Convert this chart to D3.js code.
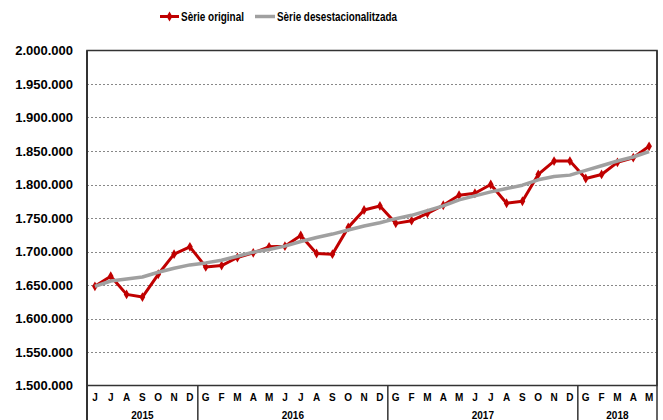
<!DOCTYPE html>
<html><head><meta charset="utf-8">
<script src="https://cdn.jsdelivr.net/npm/d3@7"></script>
<style>body{margin:0;background:#fff;}svg{display:block;font-family:"Liberation Sans",Arial,sans-serif;}</style>
</head><body>
<script>
const months = ["J","J","A","S","O","N","D",
  "G","F","M","A","M","J","J","A","S","O","N","D",
  "G","F","M","A","M","J","J","A","S","O","N","D",
  "G","F","M","A","M"];
const years = [{label:"2015",n:7},{label:"2016",n:12},{label:"2017",n:12},{label:"2018",n:5}];
const original = [1648000,1663000,1636000,1632000,1666000,1696000,1707000,
  1677000,1679000,1691000,1698000,1707000,1708000,1724000,1697000,1696000,1736000,1762000,1768000,
  1742000,1746000,1757000,1769000,1784000,1787000,1800000,1772000,1775000,1815000,1835000,1835000,
  1809000,1815000,1833000,1840000,1857000];
const desest = [1648000,1656000,1659000,1662000,1669000,1675000,1680000,
  1683000,1687000,1693000,1699000,1703000,1708000,1715000,1721000,1726000,1732000,1738000,1743000,
  1749000,1754000,1761000,1768000,1777000,1783000,1789000,1794000,1799000,1807000,1812000,1814000,
  1821000,1828000,1835000,1841000,1849000];
const yTicks = [1500000,1550000,1600000,1650000,1700000,1750000,1800000,1850000,1900000,1950000,2000000];
const seriesNames = ["Sèrie original","Sèrie desestacionalitzada"];

const W=663,H=420;
const L=87,R=657,T=50.5,B=385.5;
const svg=d3.select("body").append("svg").attr("width",W).attr("height",H);
const idx=d3.range(months.length);
const x=d3.scaleBand().domain(idx).range([L,R]).paddingInner(0).paddingOuter(0);
const y=d3.scaleLinear().domain([1500000,2000000]).range([B,T]);
const fmt=v=>d3.format(",")(v).replace(/,/g,".");

// gridlines
svg.append("g").selectAll("line").data(yTicks.filter(v=>v>1500000&&v<2000000)).join("line")
  .attr("x1",L).attr("x2",R).attr("y1",d=>Math.round(y(d))+0.5).attr("y2",d=>Math.round(y(d))+0.5)
  .attr("stroke","#888").attr("stroke-width",1).attr("stroke-dasharray","2,2");

// y axis labels
const yAxis=d3.axisLeft(y).tickValues(yTicks).tickFormat(fmt).tickSize(0).tickPadding(14);
const ya=svg.append("g").attr("transform",`translate(${L},0)`).call(yAxis);
ya.select(".domain").remove();
ya.selectAll("text").attr("font-size","13px").attr("font-weight","bold").attr("fill","#000")
  .attr("font-family","'Liberation Sans',Arial,sans-serif");

// frame
svg.append("rect").attr("x",L).attr("y",T).attr("width",R-L).attr("height",B-T)
  .attr("fill","none").attr("stroke","#333").attr("stroke-width",1.5);
svg.append("line").attr("x1",L).attr("x2",L).attr("y1",T).attr("y2",H).attr("stroke","#333").attr("stroke-width",2);
svg.append("line").attr("x1",R).attr("x2",R).attr("y1",T).attr("y2",H).attr("stroke","#333").attr("stroke-width",1.5);

// category axis
const xa=svg.append("g");
xa.selectAll("text.m").data(idx).join("text").attr("class","m")
  .attr("x",d=>x(d)+x.bandwidth()/2).attr("y",401).attr("text-anchor","middle")
  .attr("font-size","10px").attr("font-weight","bold").attr("fill","#000").text(d=>months[d]);
let start=0;
years.forEach((yr,i)=>{
  const x0=x(start), x1=x(start+yr.n-1)+x.bandwidth();
  xa.append("text").attr("x",(x0+x1)/2).attr("y",419).attr("text-anchor","middle")
    .attr("font-size","10px").attr("font-weight","bold").attr("fill","#000").text(yr.label);
  if(i<years.length-1){
    xa.append("line").attr("x1",x1).attr("x2",x1).attr("y1",B).attr("y2",H)
      .attr("stroke","#333").attr("stroke-width",1.5);
  }
  start+=yr.n;
});

// lines
const cx=i=>x(i)+x.bandwidth()/2;
const line=d3.line().x((d,i)=>cx(i)).y(d=>y(d));
svg.append("path").datum(original).attr("d",line).attr("fill","none")
  .attr("stroke","#C00000").attr("stroke-width",3).attr("stroke-linejoin","round");
svg.append("g").selectAll("path").data(original).join("path")
  .attr("transform",(d,i)=>`translate(${cx(i)},${y(d)})`)
  .attr("d",d3.symbol(d3.symbolDiamond,28)).attr("fill","#C00000");
svg.append("path").datum(desest).attr("d",line).attr("fill","none")
  .attr("stroke","#A0A0A0").attr("stroke-width",3.5).attr("stroke-linejoin","round");

// legend
const lg=svg.append("g").attr("font-size","13px").attr("font-weight","bold");
lg.append("line").attr("x1",160).attr("x2",179).attr("y1",16.5).attr("y2",16.5).attr("stroke","#C00000").attr("stroke-width",3);
lg.append("path").attr("transform","translate(169.5,16.5)").attr("d",d3.symbol(d3.symbolDiamond,28)).attr("fill","#C00000");
lg.append("text").attr("x",181).attr("y",21).attr("textLength",63).attr("lengthAdjust","spacingAndGlyphs").text(seriesNames[0]);
lg.append("line").attr("x1",255).attr("x2",275).attr("y1",16.5).attr("y2",16.5).attr("stroke","#A0A0A0").attr("stroke-width",3.5);
lg.append("text").attr("x",277).attr("y",21).attr("textLength",120).attr("lengthAdjust","spacingAndGlyphs").text(seriesNames[1]);
</script>
</body></html>
